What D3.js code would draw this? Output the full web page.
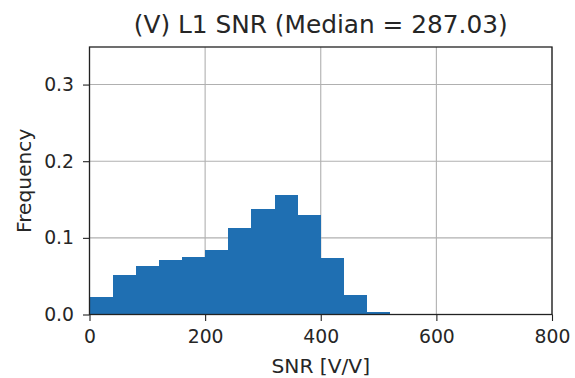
<!DOCTYPE html>
<html>
<head>
<meta charset="utf-8">
<script src="https://cdn.jsdelivr.net/npm/d3@7"></script>
<style>
  html, body { margin: 0; padding: 0; background: #fff; }
  svg { display: block; font-family: "DejaVu Sans", sans-serif; }
</style>
</head>
<body>
<svg id="chart" width="575" height="378"></svg>
<script>
// Histogram of L1 SNR values, bins of width 40 starting at 0
const binStarts = [0, 40, 80, 120, 160, 200, 240, 280, 320, 360, 400, 440, 480];
const binWidth = 40;
const frequencies = [0.023, 0.052, 0.0635, 0.0713, 0.0748, 0.0848, 0.1135, 0.137, 0.156, 0.1296, 0.0735, 0.0252, 0.0035];
const xTicks = [0, 200, 400, 600, 800];
const yTicks = [0.0, 0.1, 0.2, 0.3];
const titleText = "(V) L1 SNR (Median = 287.03)";
const xLabel = "SNR [V/V]";
const yLabel = "Frequency";

const margin = { left: 89.5, right: 23, top: 47, bottom: 63.5 };
const W = 575, H = 378;
const tickFont = 18.8, labelFont = 20.2, titleFont = 24.8;
const svg = d3.select("#chart");

const x = d3.scaleLinear().domain([0, 800]).range([margin.left, W - margin.right]);
const y = d3.scaleLinear().domain([0, 0.349]).range([H - margin.bottom, margin.top]);

// grid lines
const grid = svg.append("g");
grid.selectAll(".gx").data(xTicks).join("line")
  .attr("x1", d => x(d)).attr("x2", d => x(d))
  .attr("y1", y.range()[0]).attr("y2", y.range()[1])
  .attr("stroke", "#b0b0b0").attr("stroke-width", 1.1);
grid.selectAll(".gy").data(yTicks).join("line")
  .attr("y1", d => y(d)).attr("y2", d => y(d))
  .attr("x1", x.range()[0]).attr("x2", x.range()[1])
  .attr("stroke", "#b0b0b0").attr("stroke-width", 1.1);

// bars
const bars = binStarts.map((s, i) => ({ x0: s, x1: s + binWidth, v: frequencies[i] }));
svg.append("g").selectAll("rect").data(bars).join("rect")
  .attr("x", d => x(d.x0))
  .attr("width", d => x(d.x1) - x(d.x0))
  .attr("y", d => y(d.v))
  .attr("height", d => y(0) - y(d.v))
  .attr("fill", "#1f6fb2")
  .attr("shape-rendering", "crispEdges");

// axes
const xAxis = d3.axisBottom(x).tickValues(xTicks).tickFormat(d3.format("d")).tickSize(6.5).tickPadding(9);
const yAxis = d3.axisLeft(y).tickValues(yTicks).tickFormat(d3.format(".1f")).tickSize(6.5).tickPadding(9);

const gx = svg.append("g").attr("transform", `translate(0,${y(0)})`).call(xAxis);
const gy = svg.append("g").attr("transform", `translate(${x(0)},0)`).call(yAxis);
[gx, gy].forEach(g => {
  g.select(".domain").remove();
  g.selectAll(".tick line").attr("stroke", "#222").attr("stroke-width", 1.1);
  g.selectAll(".tick text").attr("fill", "#262626").attr("font-size", tickFont)
    .attr("font-family", "DejaVu Sans, sans-serif");
});

// frame
svg.append("rect")
  .attr("x", x.range()[0]).attr("y", y.range()[1])
  .attr("width", x.range()[1] - x.range()[0])
  .attr("height", y.range()[0] - y.range()[1])
  .attr("fill", "none").attr("stroke", "#222").attr("stroke-width", 1.3);

// labels
svg.append("text").attr("x", (x.range()[0] + x.range()[1]) / 2).attr("y", 33)
  .attr("text-anchor", "middle").attr("font-size", titleFont).attr("fill", "#262626").text(titleText);
svg.append("text").attr("x", (x.range()[0] + x.range()[1]) / 2).attr("y", 373.4)
  .attr("text-anchor", "middle").attr("font-size", labelFont).attr("fill", "#262626").text(xLabel);
svg.append("text").attr("transform", `translate(31,${(y.range()[0] + y.range()[1]) / 2}) rotate(-90)`)
  .attr("text-anchor", "middle").attr("font-size", labelFont).attr("fill", "#262626").text(yLabel);
</script>
</body>
</html>
